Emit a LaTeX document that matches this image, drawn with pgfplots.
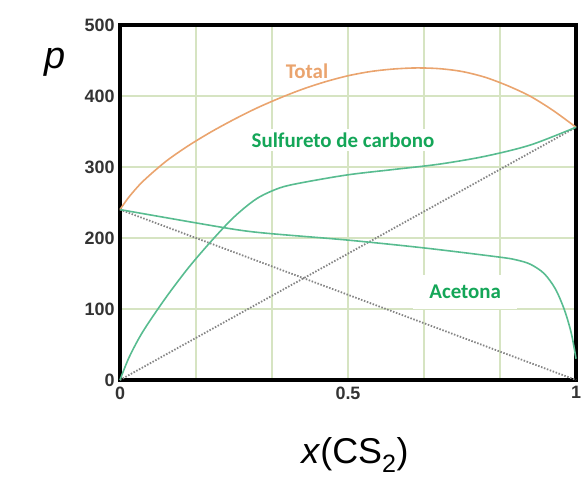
\documentclass[border=0pt]{standalone}
\usepackage{fontspec}
\setmainfont{Liberation Sans}
\newfontfamily\calibri{Carlito}
\usepackage{pgfplots}
\pgfplotsset{compat=1.18}
\definecolor{gridc}{HTML}{D6E4C2}
\definecolor{totc}{HTML}{EAA46E}
\definecolor{curvc}{HTML}{58BC90}
\definecolor{labc}{HTML}{14A658}
\definecolor{dotc}{HTML}{858585}
\definecolor{tickc}{HTML}{333333}
\begin{document}
\begin{tikzpicture}[x=1bp,y=1bp]
\useasboundingbox (-120,-103) rectangle (461,380);
\begin{axis}[
  at={(0,0)}, anchor=south west,
  scale only axis, width=456bp, height=355bp,
  xmin=0, xmax=1, ymin=0, ymax=500,
  xtick={0,0.5,1}, xticklabels={0,0.5,1},
  ytick={0,100,200,300,400,500},
  minor xtick={0.16667,0.33333,0.66667,0.83333},
  grid=both,
  major grid style={gridc, line width=1.2bp},
  minor grid style={gridc, line width=1.2bp},
  major tick length=0pt, minor tick length=0pt,
  axis line style={black, line width=3.5bp},
  tick label style={font=\fontsize{18}{18}\selectfont\bfseries, text=tickc},
  /pgf/number format/assume math mode=true,
  yticklabel style={xshift=-2bp},
  xticklabel style={yshift=-3bp},
  clip=false,
]
\addplot[dotc, line width=1.8bp, dash pattern=on 1.5bp off 1.6bp] coordinates {(0,240) (1,0)};
\addplot[dotc, line width=1.8bp, dash pattern=on 1.5bp off 1.6bp] coordinates {(0,0) (1,356)};
\addplot[totc, line width=1.6bp, smooth] coordinates {
(0,240) (0.02,258) (0.05,279.6) (0.1,307.6) (0.15,330) (0.2,349.5)
(0.25,367) (0.3,383) (0.35,397) (0.4,409.5) (0.45,420) (0.5,428.5) (0.55,434.5)
(0.6,438) (0.65,439.5) (0.7,438.5) (0.75,434.5) (0.8,426.5) (0.85,414.5)
(0.9,399.5) (0.95,379.5) (1,356)};
\addplot[curvc, line width=1.6bp, smooth] coordinates {
(0,0) (0.02,32) (0.05,68) (0.1,115.5) (0.15,158) (0.2,195.5) (0.25,229.5)
(0.3,255.5) (0.35,270.5) (0.4,278) (0.5,289) (0.6,296.5) (0.7,304)
(0.8,315) (0.9,331) (1,356)};
\addplot[curvc, line width=1.6bp, smooth] coordinates {
(0,240) (0.169,221) (0.263,211) (0.333,206) (0.5,197) (0.667,186) (0.833,173)
(0.87,169) (0.9,163) (0.93,150) (0.955,128) (0.975,98) (0.99,65) (1,30)};
\node[text=totc, font=\calibri\bfseries\fontsize{21}{21}\selectfont] at (axis cs:0.41,435) {Total};
\node[fill=white, inner sep=4bp, text=labc, font=\calibri\bfseries\fontsize{21}{21}\selectfont] at (axis cs:0.489,338) {Sulfureto de carbono};
\node[fill=white, inner xsep=16bp, inner ysep=10bp, text=labc, font=\calibri\bfseries\fontsize{21}{21}\selectfont] at (axis cs:0.757,124) {Acetona};
\end{axis}
\node[font=\fontsize{38}{38}\selectfont\itshape] at (-65,318) {p};
\node[font=\fontsize{36}{36}\selectfont] at (235,-75) {\textit{x}(CS\textsubscript{2})};
\end{tikzpicture}
\end{document}
